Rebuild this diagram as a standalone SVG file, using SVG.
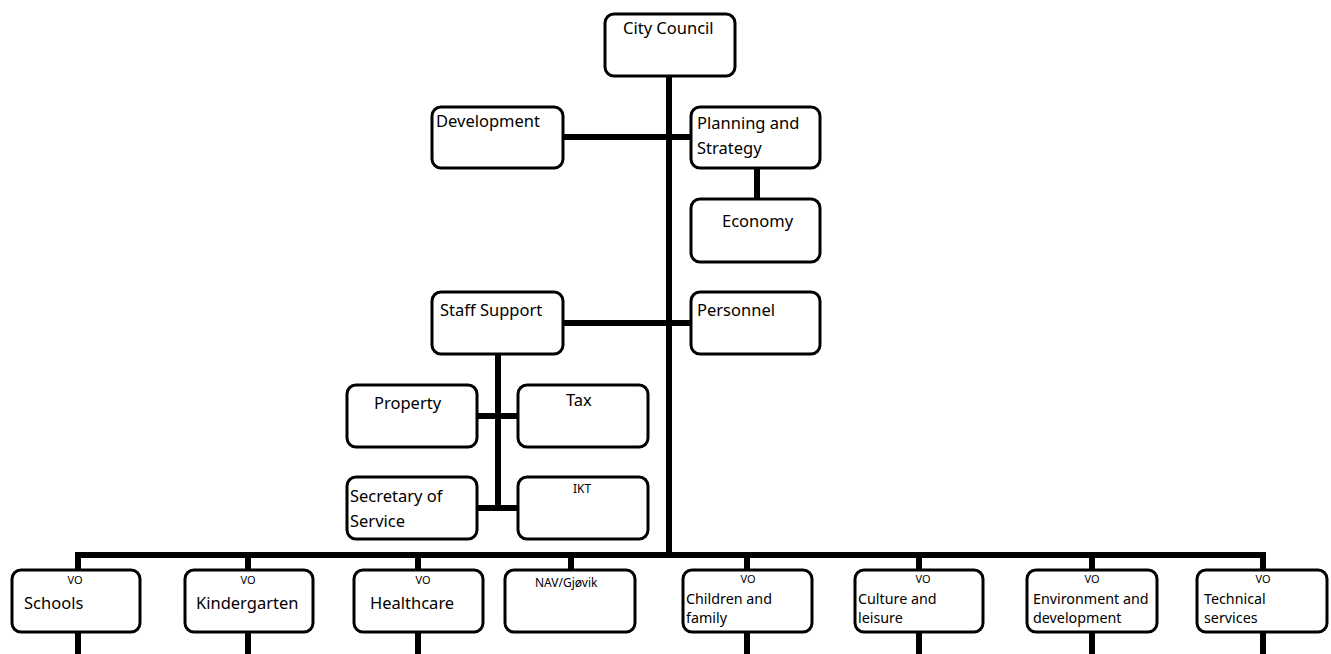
<svg xmlns="http://www.w3.org/2000/svg" width="1331" height="654" viewBox="0 0 1331 654">
<style>
.box{fill:#fff;stroke:#000;stroke-width:3}
.ln{stroke:#000;stroke-width:6;fill:none}
text{font-family:"Noto Sans","Open Sans",sans-serif;fill:#000}
.t{font-size:16.5px}
.m{font-size:14.3px}
.s{font-size:12px}
.v{font-size:11px;text-anchor:middle}
</style>
<rect width="1331" height="654" fill="#fff"/>
<g id="connectors">
<line class="ln" x1="669" y1="76" x2="669" y2="558"/>
<line class="ln" x1="563" y1="137" x2="691" y2="137"/>
<line class="ln" x1="757" y1="167" x2="757" y2="199"/>
<line class="ln" x1="563" y1="323" x2="691" y2="323"/>
<line class="ln" x1="498" y1="354" x2="498" y2="508"/>
<line class="ln" x1="477" y1="416" x2="518" y2="416"/>
<line class="ln" x1="477" y1="508" x2="518" y2="508"/>
<line class="ln" x1="75" y1="555" x2="1266" y2="555"/>
<line class="ln" x1="78" y1="552" x2="78" y2="570"/>
<line class="ln" x1="248" y1="555" x2="248" y2="570"/>
<line class="ln" x1="418" y1="555" x2="418" y2="570"/>
<line class="ln" x1="571" y1="555" x2="571" y2="570"/>
<line class="ln" x1="747" y1="555" x2="747" y2="570"/>
<line class="ln" x1="919" y1="555" x2="919" y2="570"/>
<line class="ln" x1="1092" y1="555" x2="1092" y2="570"/>
<line class="ln" x1="1263" y1="552" x2="1263" y2="570"/>
<line class="ln" x1="78" y1="632" x2="78" y2="654"/>
<line class="ln" x1="248" y1="632" x2="248" y2="654"/>
<line class="ln" x1="418" y1="632" x2="418" y2="654"/>
<line class="ln" x1="747" y1="632" x2="747" y2="654"/>
<line class="ln" x1="919" y1="632" x2="919" y2="654"/>
<line class="ln" x1="1092" y1="632" x2="1092" y2="654"/>
<line class="ln" x1="1263" y1="632" x2="1263" y2="654"/>
</g>
<g id="city-council"><rect class="box" x="605" y="14" width="130" height="62" rx="9"/><text class="t" x="623" y="34">City Council</text></g>
<g id="development"><rect class="box" x="432" y="107" width="131" height="61" rx="9"/><text class="t" x="436" y="127">Development</text></g>
<g id="planning"><rect class="box" x="691" y="107" width="129" height="61" rx="9"/><text class="t" x="697" y="129">Planning and</text><text class="t" x="697" y="154">Strategy</text></g>
<g id="economy"><rect class="box" x="691" y="199" width="129" height="63" rx="9"/><text class="t" x="722" y="227">Economy</text></g>
<g id="staff-support"><rect class="box" x="432" y="292" width="131" height="62" rx="9"/><text class="t" x="440" y="316">Staff Support</text></g>
<g id="personnel"><rect class="box" x="691" y="292" width="129" height="62" rx="9"/><text class="t" x="697" y="316">Personnel</text></g>
<g id="property"><rect class="box" x="347" y="385" width="130" height="62" rx="9"/><text class="t" x="374" y="409">Property</text></g>
<g id="tax"><rect class="box" x="518" y="385" width="130" height="62" rx="9"/><text class="t" x="566" y="406">Tax</text></g>
<g id="secretary"><rect class="box" x="347" y="477" width="130" height="62" rx="9"/><text class="t" x="350" y="502">Secretary of</text><text class="t" x="350" y="527">Service</text></g>
<g id="ikt"><rect class="box" x="518" y="477" width="130" height="62" rx="9"/><text class="s" x="573" y="493">IKT</text></g>
<g id="schools"><rect class="box" x="12" y="570" width="128" height="62" rx="9"/><text class="v" x="75" y="584">VO</text><text class="t" x="24" y="609">Schools</text></g>
<g id="kindergarten"><rect class="box" x="185" y="570" width="128" height="62" rx="9"/><text class="v" x="248" y="584">VO</text><text class="t" x="196" y="609">Kindergarten</text></g>
<g id="healthcare"><rect class="box" x="354" y="570" width="129" height="62" rx="9"/><text class="v" x="423" y="584">VO</text><text class="t" x="370" y="609">Healthcare</text></g>
<g id="nav"><rect class="box" x="505" y="570" width="130" height="62" rx="9"/><text class="s" x="535" y="587">NAV/Gjøvik</text></g>
<g id="children"><rect class="box" x="683" y="570" width="129" height="62" rx="9"/><text class="v" x="748" y="583">VO</text><text class="m" x="686" y="604">Children and</text><text class="m" x="686" y="623">family</text></g>
<g id="culture"><rect class="box" x="855" y="570" width="128" height="62" rx="9"/><text class="v" x="923" y="583">VO</text><text class="m" x="858" y="604">Culture and</text><text class="m" x="858" y="623">leisure</text></g>
<g id="environment"><rect class="box" x="1027" y="570" width="130" height="62" rx="9"/><text class="v" x="1092" y="583">VO</text><text class="m" x="1033" y="604">Environment and</text><text class="m" x="1033" y="623">development</text></g>
<g id="technical"><rect class="box" x="1197" y="570" width="130" height="62" rx="9"/><text class="v" x="1263" y="583">VO</text><text class="m" x="1204" y="604">Technical</text><text class="m" x="1204" y="623">services</text></g>
</svg>
